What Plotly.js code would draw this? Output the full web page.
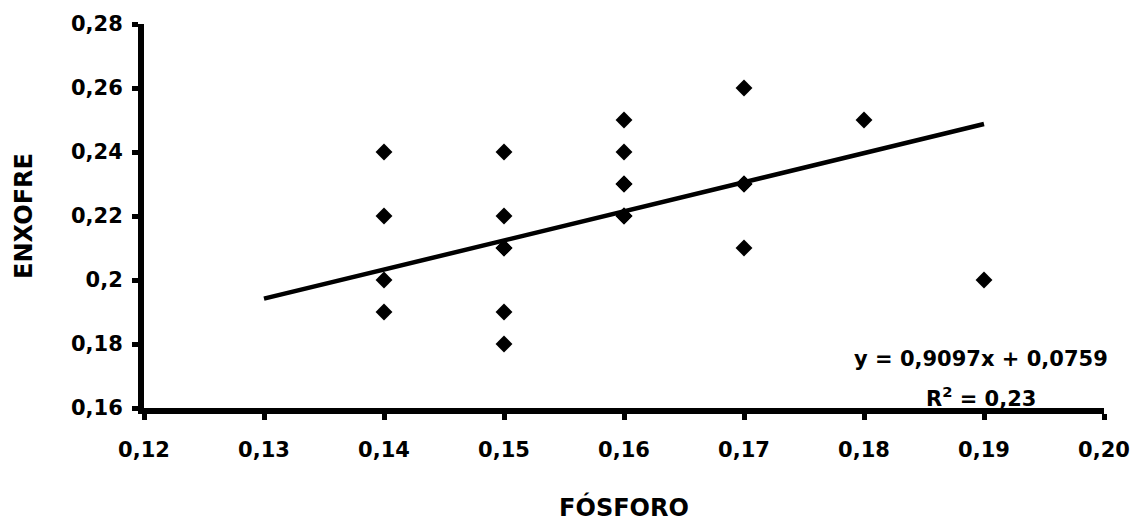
<!DOCTYPE html>
<html>
<head>
<meta charset="utf-8">
<script src="https://cdn.plot.ly/plotly-3.0.1.min.js"></script>
<style>html,body{margin:0;padding:0;background:#fff;}#chart{width:1133px;height:522px;}</style>
</head>
<body>
<div id="chart"></div>
<script>
// Data
const fosforo = [0.14,0.14,0.14,0.14,
                 0.15,0.15,0.15,0.15,0.15,0.15,
                 0.16,0.16,0.16,0.16,0.16,0.16,
                 0.17,0.17,0.17,0.17,
                 0.18,
                 0.19];
const enxofre = [0.24,0.22,0.20,0.19,
                 0.24,0.22,0.21,0.21,0.19,0.18,
                 0.25,0.24,0.23,0.23,0.22,0.22,
                 0.26,0.23,0.23,0.21,
                 0.25,
                 0.20];
// Trendline from the chart's equation label
const slope = 0.9097;
const intercept = 0.0759;
const trendX = [0.13, 0.19];
const rSquared = "0,23";
const xTicks = [0.12,0.13,0.14,0.15,0.16,0.17,0.18,0.19,0.20];
const xTickText = ["0,12","0,13","0,14","0,15","0,16","0,17","0,18","0,19","0,20"];
const yTicks = [0.16,0.18,0.20,0.22,0.24,0.26,0.28];
const yTickText = ["0,16","0,18","0,2","0,22","0,24","0,26","0,28"];

const trendY = trendX.map(x => slope * x + intercept);
const fmt = v => v.toFixed(4).replace('.', ',');

const font = {family: "DejaVu Sans", size: 21, color: "#000", weight: "bold"};
const titleFont = {family: "DejaVu Sans", size: 24, color: "#000", weight: "bold"};

const data = [
  {x: fosforo, y: enxofre, type: "scatter", mode: "markers",
   marker: {symbol: "diamond", size: 13, color: "#000"}, hoverinfo: "x+y", showlegend: false},
  {x: trendX, y: trendY, type: "scatter", mode: "lines",
   line: {color: "#000", width: 4.5}, showlegend: false, hoverinfo: "skip"}
];

const axisCommon = {
  showgrid: false, zeroline: false, showline: true, linecolor: "#000", linewidth: 6,
  ticks: "outside", ticklen: 6, tickwidth: 5, tickcolor: "#000", tickfont: font
};

const layout = {
  width: 1133, height: 522,
  margin: {l: 144, r: 29, t: 24, b: 114},
  paper_bgcolor: "#fff", plot_bgcolor: "#fff",
  showlegend: false,
  xaxis: Object.assign({}, axisCommon, {
    range: [0.12, 0.20], tickvals: xTicks, ticktext: xTickText,
    ticklabelstandoff: 12,
    title: {text: "FÓSFORO", font: titleFont, standoff: 42}
  }),
  yaxis: Object.assign({}, axisCommon, {
    range: [0.16, 0.28], tickvals: yTicks, ticktext: yTickText,
    ticklabelstandoff: 5,
    title: {text: "ENXOFRE", font: titleFont, standoff: 34}
  }),
  annotations: [
    {x: 0.18975, y: 0.17516, xref: "x", yref: "y", showarrow: false,
     text: "y = " + fmt(slope) + "x + " + fmt(intercept), font: font, xanchor: "center", yanchor: "middle"},
    {x: 0.18975, y: 0.1634, xref: "x", yref: "y", showarrow: false,
     text: "R<sup>2</sup> = " + rSquared, font: font, xanchor: "center", yanchor: "middle"}
  ]
};

Plotly.newPlot("chart", data, layout, {displayModeBar: false, staticPlot: true});
</script>
</body>
</html>
